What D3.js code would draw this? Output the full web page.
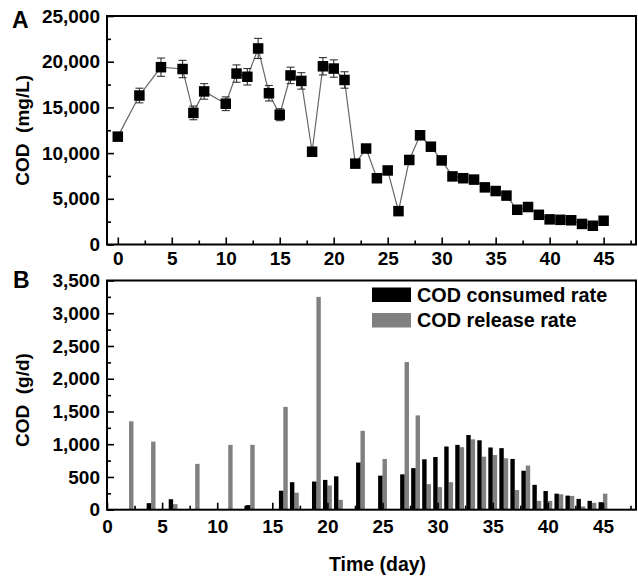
<!DOCTYPE html>
<html>
<head>
<meta charset="utf-8">
<script src="https://cdn.jsdelivr.net/npm/d3@7"></script>
<style>
  html, body { margin: 0; padding: 0; background: #fff; }
  svg text { font-family: "Liberation Sans", Arial, Helvetica, sans-serif; font-weight: bold; fill: #000; }
</style>
</head>
<body>
<svg id="chart" width="638" height="577"></svg>
<script>
// Panel A: COD concentration over time (mg/L), with error bars
const daysA = [0, 2, 4, 6, 7, 8, 10, 11, 12, 13, 14, 15, 16, 17, 18, 19, 20, 21, 22, 23, 24, 25,
  26, 27, 28, 29, 30, 31, 32, 33, 34, 35, 36, 37, 38, 39, 40, 41, 42, 43, 44, 45];
const codConc = [11800, 16300, 19400, 19200, 14400, 16750, 15400, 18700, 18350, 21450, 16550,
  14200, 18500, 17900, 10150, 19500, 19250, 18000, 8850, 10500, 7250, 8100, 3650, 9250, 11950,
  10700, 9200, 7450, 7250, 7100, 6250, 5850, 5350, 3800, 4100, 3250, 2750, 2700, 2650, 2250,
  2050, 2600];
const codErr = [0, 800, 1000, 950, 750, 850, 750, 950, 900, 1100, 850, 650, 900, 900, 0, 950,
  950, 900, 0, 0, 0, 0, 0, 0, 0, 0, 0, 0, 0, 0, 0, 0, 0, 0, 0, 0, 0, 0, 0, 0, 0, 0];

// Panel B: COD consumed / released rate (g/d)
const consumedDays = [4, 6, 13, 16, 17, 19, 20, 21, 23, 25, 27, 28, 29, 30, 31, 32, 33, 34, 35,
  36, 37, 38, 39, 40, 41, 42, 43, 44, 45];
const consumedRate = [100, 160, 70, 290, 420, 430, 455, 510, 720, 520, 540, 635, 770, 805, 965,
  990, 1140, 1060, 950, 940, 775, 595, 380, 285, 245, 215, 165, 135, 115];
const releaseDays = [2, 4, 6, 8, 11, 13, 16, 17, 19, 20, 21, 23, 25, 27, 28, 29, 30, 31, 32, 33,
  34, 35, 36, 37, 38, 39, 40, 41, 42, 43, 44, 45];
const releaseRate = [1350, 1040, 85, 700, 990, 990, 1570, 260, 3250, 370, 150, 1205, 775, 2255,
  1440, 390, 345, 420, 955, 1075, 810, 835, 785, 300, 675, 135, 135, 235, 210, 50, 105, 245];

// Tick values and labels
const xTicks = [0, 5, 10, 15, 20, 25, 30, 35, 40, 45];
const xMinorTicks = [2.5, 7.5, 12.5, 17.5, 22.5, 27.5, 32.5, 37.5, 42.5, 47.5];
const yTicksA = [0, 5000, 10000, 15000, 20000, 25000];
const yMinorA = [2500, 7500, 12500, 17500, 22500];
const yTicksB = [0, 500, 1000, 1500, 2000, 2500, 3000, 3500];
const yMinorB = [250, 750, 1250, 1750, 2250, 2750, 3250];
const seriesNames = ["COD consumed rate", "COD release rate"];
const seriesColors = ["#000000", "#808080"];

const svg = d3.select("#chart");
const fmt = d3.format(",");
const FONT = 19;

const left = 107, right = 636;
const topA = 16, botA = 244.5;
const topB = 280.5, botB = 509.7;

const xA = d3.scaleLinear().domain([-1, 48]).range([left, right]);
const yA = d3.scaleLinear().domain([0, 25000]).range([botA, topA]);
const xB = d3.scaleLinear().domain([0, 48]).range([left, right]);
const yB = d3.scaleLinear().domain([0, 3500]).range([botB, topB]);

function drawAxes(x, y, top, bot, yTicks, yMinor, xPad) {
  // left axis: inward major + minor ticks
  const gl = svg.append("g").attr("transform", `translate(${left},0)`);
  gl.call(d3.axisLeft(y).tickValues(yTicks).tickFormat(fmt).tickSizeInner(-7).tickSizeOuter(0).tickPadding(7));
  gl.select(".domain").remove();
  gl.selectAll(".tick line").attr("stroke", "#000").attr("stroke-width", 1.6);
  gl.selectAll(".tick text").style("font-size", FONT + "px").attr("fill", "#000");
  const glm = svg.append("g").attr("transform", `translate(${left},0)`);
  glm.call(d3.axisLeft(y).tickValues(yMinor).tickFormat("").tickSizeInner(-4).tickSizeOuter(0));
  glm.select(".domain").remove();
  glm.selectAll(".tick line").attr("stroke", "#000").attr("stroke-width", 1.6);

  // bottom axis
  const gb = svg.append("g").attr("transform", `translate(0,${bot})`);
  gb.call(d3.axisBottom(x).tickValues(xTicks).tickFormat(d3.format("d")).tickSizeInner(-7).tickSizeOuter(0).tickPadding(xPad));
  gb.select(".domain").remove();
  gb.selectAll(".tick line").attr("stroke", "#000").attr("stroke-width", 1.6);
  gb.selectAll(".tick text").style("font-size", FONT + "px").attr("fill", "#000");
  const gbm = svg.append("g").attr("transform", `translate(0,${bot})`);
  gbm.call(d3.axisBottom(x).tickValues(xMinorTicks).tickFormat("").tickSizeInner(-4).tickSizeOuter(0));
  gbm.select(".domain").remove();
  gbm.selectAll(".tick line").attr("stroke", "#000").attr("stroke-width", 1.6);
}

function drawFrame(top, bot) {
  svg.append("rect")
    .attr("x", left).attr("y", top)
    .attr("width", right - left).attr("height", bot - top)
    .attr("fill", "none").attr("stroke", "#000").attr("stroke-width", 2);
}

// ---------- Panel A ----------
const ptsA = daysA.map((d, i) => ({ d, v: codConc[i], e: codErr[i] }));

svg.append("path")
  .datum(ptsA)
  .attr("fill", "none")
  .attr("stroke", "#666")
  .attr("stroke-width", 1.2)
  .attr("d", d3.line().x(p => xA(p.d)).y(p => yA(p.v)));

const eb = svg.append("g").attr("stroke", "#333").attr("stroke-width", 1.1);
ptsA.filter(p => p.e > 0).forEach(p => {
  const cx = xA(p.d), y1 = yA(p.v + p.e), y2 = yA(p.v - p.e);
  eb.append("line").attr("x1", cx).attr("x2", cx).attr("y1", y1).attr("y2", y2);
  eb.append("line").attr("x1", cx - 4).attr("x2", cx + 4).attr("y1", y1).attr("y2", y1);
  eb.append("line").attr("x1", cx - 4).attr("x2", cx + 4).attr("y1", y2).attr("y2", y2);
});

const MS = 10.5;
svg.append("g").selectAll("rect")
  .data(ptsA)
  .join("rect")
  .attr("x", p => xA(p.d) - MS / 2)
  .attr("y", p => yA(p.v) - MS / 2)
  .attr("width", MS).attr("height", MS)
  .attr("fill", "#000");

drawAxes(xA, yA, topA, botA, yTicksA, yMinorA, 7);
drawFrame(topA, botA);

svg.append("text")
  .attr("transform", `translate(28.5,${(topA + botA) / 2}) rotate(-90)`)
  .attr("text-anchor", "middle")
  .style("font-size", FONT + "px")
  .text("COD\u00a0\u00a0(mg/L)");

svg.append("text").attr("x", 12).attr("y", 27.5).style("font-size", "23px").text("A");

// ---------- Panel B ----------
const BW = 0.4; // bar width in days
svg.append("g").selectAll("rect")
  .data(releaseDays.map((d, i) => ({ d, v: releaseRate[i] })))
  .join("rect")
  .attr("x", p => xB(p.d))
  .attr("width", p => xB(p.d + BW) - xB(p.d))
  .attr("y", p => yB(p.v))
  .attr("height", p => yB(0) - yB(p.v))
  .attr("fill", seriesColors[1]);

svg.append("g").selectAll("rect")
  .data(consumedDays.map((d, i) => ({ d, v: consumedRate[i] })))
  .join("rect")
  .attr("x", p => xB(p.d - BW))
  .attr("width", p => xB(p.d) - xB(p.d - BW))
  .attr("y", p => yB(p.v))
  .attr("height", p => yB(0) - yB(p.v))
  .attr("fill", seriesColors[0]);

drawAxes(xB, yB, topB, botB, yTicksB, yMinorB, 10);
drawFrame(topB, botB);

svg.append("text")
  .attr("transform", `translate(28.5,${(topB + botB) / 2 + 5}) rotate(-90)`)
  .attr("text-anchor", "middle")
  .style("font-size", FONT + "px")
  .text("COD\u00a0\u00a0(g/d)");

svg.append("text").attr("x", 13).attr("y", 288).style("font-size", "23px").text("B");

// legend
const lg = svg.append("g").attr("transform", "translate(372,287.5)");
seriesNames.forEach((name, i) => {
  const row = lg.append("g").attr("transform", `translate(0,${i * 25.5})`);
  row.append("rect").attr("width", 39).attr("height", 14.5).attr("fill", seriesColors[i]);
  row.append("text").attr("x", 45).attr("y", 14).style("font-size", "19.8px").text(name);
});

// x-axis title
svg.append("text")
  .attr("x", 377.5).attr("y", 571)
  .attr("text-anchor", "middle")
  .style("font-size", "19.5px")
  .text("Time (day)");
</script>
</body>
</html>
